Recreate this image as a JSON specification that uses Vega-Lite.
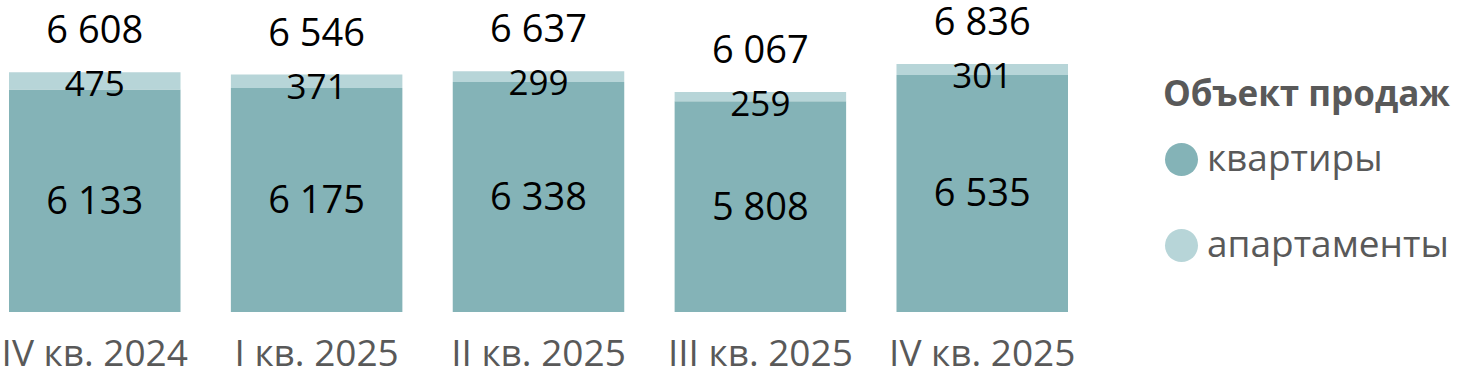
{
  "$schema": "https://vega.github.io/schema/vega-lite/v6.json",
  "width": 1059,
  "height": 312,
  "autosize": {"type": "none"},
  "padding": {"left": 9, "top": 0, "right": 391, "bottom": 63},
  "config": {
    "view": {"stroke": null},
    "font": "Open Sans",
    "locale": {"number": {"decimal": ",", "thousands": " ", "grouping": [3], "currency": ["", ""]}}
  },
  "data": {
    "values": [
      {"quarter": "IV кв. 2024", "type": "квартиры", "value": 6133},
      {"quarter": "IV кв. 2024", "type": "апартаменты", "value": 475},
      {"quarter": "I кв. 2025", "type": "квартиры", "value": 6175},
      {"quarter": "I кв. 2025", "type": "апартаменты", "value": 371},
      {"quarter": "II кв. 2025", "type": "квартиры", "value": 6338},
      {"quarter": "II кв. 2025", "type": "апартаменты", "value": 299},
      {"quarter": "III кв. 2025", "type": "квартиры", "value": 5808},
      {"quarter": "III кв. 2025", "type": "апартаменты", "value": 259},
      {"quarter": "IV кв. 2025", "type": "квартиры", "value": 6535},
      {"quarter": "IV кв. 2025", "type": "апартаменты", "value": 301}
    ]
  },
  "transform": [
    {"stack": "value", "groupby": ["quarter"], "sort": [{"field": "type", "order": "descending"}], "as": ["v0", "v1"]},
    {"joinaggregate": [{"op": "sum", "field": "value", "as": "total"}], "groupby": ["quarter"]},
    {"calculate": "(datum.v0 + datum.v1) / 2", "as": "mid"}
  ],
  "encoding": {
    "x": {
      "field": "quarter",
      "type": "nominal",
      "sort": null,
      "scale": {"paddingInner": 0.227, "paddingOuter": 0},
      "axis": {
        "title": null,
        "domain": false,
        "ticks": false,
        "labelAngle": 0,
        "labelFontSize": 37,
        "labelColor": "#595959",
        "labelPadding": 24,
        "labelLimit": 0,
        "labelOverlap": false,
        "labelFont": "Open Sans"
      }
    }
  },
  "layer": [
    {
      "mark": {"type": "bar"},
      "encoding": {
        "y": {"field": "v0", "type": "quantitative", "scale": {"domain": [0, 8600], "nice": false, "zero": true}, "axis": null},
        "y2": {"field": "v1"},
        "color": {
          "field": "type",
          "type": "nominal",
          "scale": {"domain": ["квартиры", "апартаменты"], "range": ["#84b3b7", "#b7d5d8"]},
          "legend": {
            "title": "Объект продаж",
            "orient": "none",
            "legendX": 1154,
            "legendY": 78,
            "symbolType": "circle",
            "symbolSize": 1089,
            "symbolOpacity": 1,
            "symbolStrokeWidth": 0,
            "labelFontSize": 37,
            "labelColor": "#595959",
            "labelOffset": 7,
            "titleFontSize": 35,
            "titleFontWeight": "bold",
            "titleColor": "#595959",
            "titlePadding": 28,
            "titleLimit": 0,
            "rowPadding": 48,
            "labelLimit": 0
          }
        }
      }
    },
    {
      "transform": [{"filter": "datum.type === 'квартиры'"}],
      "mark": {"type": "text", "fontSize": 38, "color": "#000000", "baseline": "middle", "dy": 2},
      "encoding": {
        "y": {"field": "mid", "type": "quantitative"},
        "text": {"field": "value", "type": "quantitative", "format": ",d"}
      }
    },
    {
      "transform": [{"filter": "datum.type === 'апартаменты'"}],
      "mark": {"type": "text", "fontSize": 35, "color": "#000000", "baseline": "middle", "dy": 13},
      "encoding": {
        "y": {"field": "v1", "type": "quantitative"},
        "text": {"field": "value", "type": "quantitative", "format": ",d"}
      }
    },
    {
      "transform": [{"filter": "datum.type === 'апартаменты'"}],
      "mark": {"type": "text", "fontSize": 38, "color": "#000000", "baseline": "middle", "dy": -40},
      "encoding": {
        "y": {"field": "v1", "type": "quantitative"},
        "text": {"field": "total", "type": "quantitative", "format": ",d"}
      }
    }
  ]
}
